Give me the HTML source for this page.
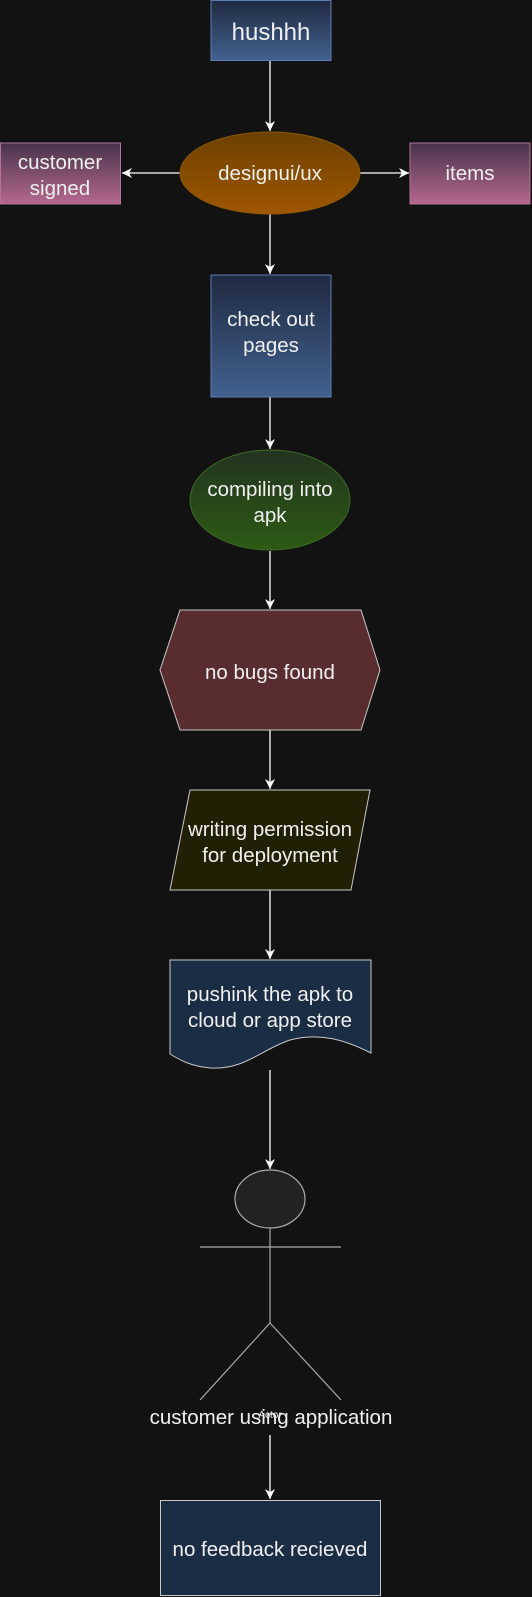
<!DOCTYPE html>
<html><head><meta charset="utf-8"><style>
html,body{margin:0;padding:0;background:#121212;}
svg{display:block;}
text{font-family:"Liberation Sans",Arial,sans-serif;fill:#f0f0f0;text-anchor:middle;}
</style></head><body>
<svg width="532" height="1597" viewBox="0 0 532 1597" xmlns="http://www.w3.org/2000/svg">
<defs>
<linearGradient id="gb" x1="0" y1="0" x2="0" y2="1"><stop offset="0" stop-color="#1f2a40"/><stop offset="1" stop-color="#42618f"/></linearGradient>
<linearGradient id="gp" x1="0" y1="0" x2="0" y2="1"><stop offset="0" stop-color="#48334a"/><stop offset="1" stop-color="#b5688f"/></linearGradient>
<linearGradient id="go" x1="0" y1="0" x2="0" y2="1"><stop offset="0" stop-color="#6b4000"/><stop offset="1" stop-color="#a05600"/></linearGradient>
<linearGradient id="gg" x1="0" y1="0" x2="0" y2="1"><stop offset="0" stop-color="#22331f"/><stop offset="1" stop-color="#2d5a13"/></linearGradient>
<marker id="a" markerWidth="12" markerHeight="12" refX="10" refY="6" orient="auto" markerUnits="userSpaceOnUse"><path d="M0,1 L10,6 L0,11 L3,6 Z" fill="#fff"/></marker>
</defs>
<g stroke="#fff" stroke-width="1.3" fill="none" marker-end="url(#a)">
<line x1="270" y1="61" x2="270" y2="131"/>
<line x1="180" y1="173" x2="122" y2="173"/>
<line x1="360" y1="173" x2="409" y2="173"/>
<line x1="270" y1="214" x2="270" y2="274"/>
<line x1="270" y1="397" x2="270" y2="449"/>
<line x1="270" y1="551" x2="270" y2="609"/>
<line x1="270" y1="730" x2="270" y2="789"/>
<line x1="270" y1="890" x2="270" y2="959"/>
<line x1="270" y1="1070" x2="270" y2="1169"/>
<line x1="270" y1="1435" x2="270" y2="1499"/>
</g>
<rect x="211" y="0.5" width="120" height="60" fill="url(#gb)" stroke="#5b7fb5"/>
<text x="271" y="40" font-size="24">hushhh</text>
<ellipse cx="270" cy="173" rx="90" ry="41" fill="url(#go)" stroke="#8a5a00"/>
<text x="270" y="180" font-size="20.5">designui/ux</text>
<rect x="0.5" y="143" width="120" height="61" fill="url(#gp)" stroke="#b5739a"/>
<text x="60" y="169" font-size="20.5">customer</text>
<text x="60" y="195" font-size="20.5">signed</text>
<rect x="410" y="143" width="120" height="61" fill="url(#gp)" stroke="#b5739a"/>
<text x="470" y="180" font-size="20.5">items</text>
<rect x="211" y="275" width="120" height="122" fill="url(#gb)" stroke="#5b7fb5"/>
<text x="271" y="326" font-size="20.5">check out</text>
<text x="271" y="352" font-size="20.5">pages</text>
<ellipse cx="270" cy="500" rx="80" ry="50" fill="url(#gg)" stroke="#3d6b25"/>
<text x="270" y="496" font-size="20.5">compiling into</text>
<text x="270" y="522" font-size="20.5">apk</text>
<polygon points="180,610 361,610 380,670 361,730 180,730 160,670" fill="#592d2f" stroke="#c8c8c8"/>
<text x="270" y="679" font-size="20.5">no bugs found</text>
<polygon points="190,790 370,790 351,890 170,890" fill="#222004" stroke="#c8c8c8"/>
<text x="270" y="836" font-size="20.5">writing permission</text>
<text x="270" y="862" font-size="20.5">for deployment</text>
<path d="M170,960 H371 V1053 C345,1040 320,1032 290,1040 C260,1050 245,1070 210,1068 C190,1066 180,1060 170,1054 Z" fill="#1a2d45" stroke="#c8c8c8"/>
<text x="270" y="1001" font-size="20.5">pushink the apk to</text>
<text x="270" y="1027" font-size="20.5">cloud or app store</text>
<g stroke="#aaa" stroke-width="1.2" fill="none">
<ellipse cx="270" cy="1199" rx="35" ry="29" fill="#222"/>
<line x1="200" y1="1247" x2="341" y2="1247"/>
<line x1="270" y1="1228" x2="270" y2="1323"/>
<line x1="270" y1="1323" x2="200" y2="1400"/>
<line x1="270" y1="1323" x2="341" y2="1400"/>
</g>
<text x="270" y="1418" font-size="10">Actor</text>
<text x="271" y="1424" font-size="20.5">customer using application</text>
<rect x="160.5" y="1500.5" width="220" height="95" fill="#1a2d45" stroke="#c8c8c8"/>
<text x="270" y="1556" font-size="20.5">no feedback recieved</text>
</svg>
</body></html>
